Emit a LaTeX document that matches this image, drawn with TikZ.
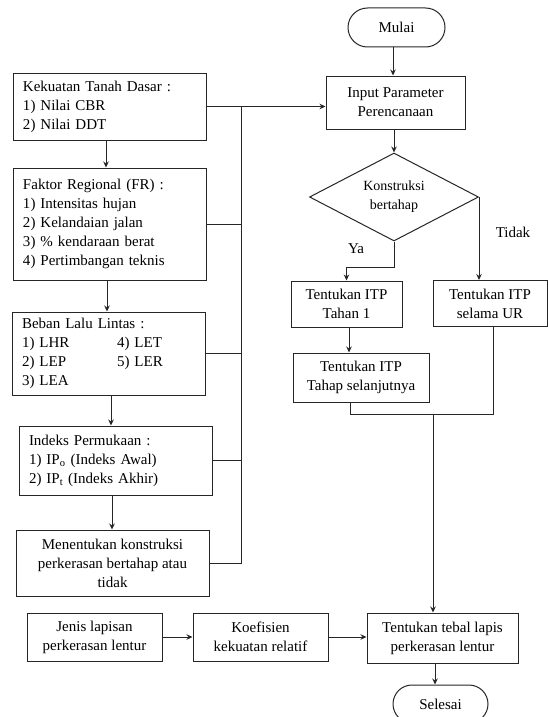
\documentclass[tikz,border=0pt]{standalone}
\usepackage{fontspec}
\setmainfont{Liberation Serif}
\usetikzlibrary{shapes.geometric,shapes.misc,arrows.meta}
\tikzset{
  ln/.style={draw=black!85, line width=1pt},
  arr/.style={ln, -{Stealth[length=6pt,width=5.5pt]}},
  box/.style={ln, rectangle, inner sep=0pt, font=\fontsize{15}{19}\selectfont},
  lbox/.style={box, align=left, inner xsep=10pt},
  cbox/.style={box, align=center},
  term/.style={ln, rounded rectangle, inner sep=0pt, font=\fontsize{15}{19}\selectfont},
  dia/.style={ln, diamond, aspect=1.92, inner sep=0pt, minimum width=169pt, minimum height=88pt, align=center, font=\fontsize{14}{19}\selectfont},
  lbl/.style={inner sep=0pt, font=\fontsize{15}{19}\selectfont}
}
\begin{document}
\begin{tikzpicture}[x=1pt,y=-1pt]
\clip (0,0) rectangle (548,717);
\fill[white] (0,0) rectangle (548,717);

% left column
\node[lbox, minimum width=193, minimum height=67, text width=173] (b1) at (109.5,106.5)
  {Kekuatan Tanah Dasar :\\1) Nilai CBR\\2) Nilai DDT};
\node[lbox, minimum width=193, minimum height=112, text width=173] (b2) at (109.5,224)
  {Faktor Regional (FR) :\\1) Intensitas hujan\\2) Kelandaian jalan\\3) \% kendaraan berat\\4) Pertimbangan teknis};
\node[lbox, minimum width=193, minimum height=83, text width=173] (b3) at (108.5,353.5)
  {Beban Lalu Lintas :\\\makebox[95pt][l]{1) LHR}4) LET\\\makebox[95pt][l]{2) LEP}5) LER\\3) LEA};
\node[lbox, minimum width=193, minimum height=69, text width=173] (b4) at (115.5,460.5)
  {Indeks Permukaan :\\1) IP\textsubscript{o} (Indeks Awal)\\2) IP\textsubscript{t} (Indeks Akhir)};
\node[cbox, minimum width=193, minimum height=66] (b5) at (112.5,563)
  {Menentukan konstruksi\\perkerasan bertahap atau\\tidak};

% right column
\node[term, minimum width=97, minimum height=39] (mulai) at (396.5,27.5) {Mulai};
\node[cbox, minimum width=139, minimum height=53] (input) at (395.5,102.5)
  {Input Parameter\\Perencanaan};
\node[dia] (dia) at (394,197) {Konstruksi\\bertahap};
\node[cbox, minimum width=111, minimum height=46] (t1) at (346.5,304)
  {Tentukan ITP\\Tahan 1};
\node[cbox, minimum width=114, minimum height=46] (ur) at (490,303.5)
  {Tentukan ITP\\selama UR};
\node[cbox, minimum width=136, minimum height=49] (tahap) at (361,377.5)
  {Tentukan ITP\\Tahap selanjutnya};
\node[lbl] (ya) at (356,249) {Ya};
\node[lbl] (tidak) at (513,232) {Tidak};

% bottom row
\node[cbox, minimum width=135, minimum height=48] (jenis) at (94.5,637)
  {Jenis lapisan\\perkerasan lentur};
\node[cbox, minimum width=135, minimum height=48] (koef) at (260.5,637)
  {Koefisien\\kekuatan relatif};
\node[cbox, minimum width=151, minimum height=50] (tebal) at (442.5,638)
  {Tentukan tebal lapis\\perkerasan lentur};
\node[term, minimum width=95, minimum height=38] (sel) at (440.5,704) {Selesai};

% helper coordinates
\coordinate (bus) at (241,0);
\coordinate (xa) at (106,0);
\coordinate (xb) at (107,0);
\coordinate (xc) at (111,0);
\coordinate (xd) at (112,0);
\coordinate (xi) at (393,0);
\coordinate (xt) at (349,0);
\coordinate (xv) at (350,0);
\coordinate (xm) at (433,0);
\coordinate (xs) at (435,0);
\coordinate (xu) at (493,0);
\coordinate (jn) at (433,414);

% left column arrows
\draw[arr] (b1.south -| xa) -- (b2.north -| xa);
\draw[arr] (b2.south -| xb) -- (b3.north -| xb);
\draw[arr] (b3.south -| xc) -- (b4.north -| xc);
\draw[arr] (b4.south -| xd) -- (b5.north -| xd);

% bus to input
\draw[arr] (b1.east) -- (input.west |- b1.east);
\draw[ln] (b1.east -| bus) -- (b5.east -| bus) -- (b5.east);
\draw[ln] (b2.east) -- (b2.east -| bus);
\draw[ln] (b3.east) -- (b3.east -| bus);
\draw[ln] (b4.east) -- (b4.east -| bus);

% right column
\draw[arr] (mulai.south -| xi) -- (input.north -| xi);
\draw[arr] (input.south -| dia.north) -- (dia.north);
\draw[arr] (dia.south) -- ++(0,26) -| (t1.north);
\draw[arr] (dia.east) -- (dia.east |- ur.north);
\draw[arr] (t1.south -| xt) -- (tahap.north -| xt);
\draw[ln] (tahap.south -| xv) -- (jn -| xv) -- (jn -| xu) -- (ur.south -| xu);
\draw[arr] (jn) -- (tebal.north -| xm);

% bottom row
\draw[arr] (jenis.east) -- (koef.west);
\draw[arr] (koef.east) -- (tebal.west |- koef.east);
\draw[arr] (tebal.south -| xs) -- (sel.north -| xs);
\end{tikzpicture}
\end{document}
